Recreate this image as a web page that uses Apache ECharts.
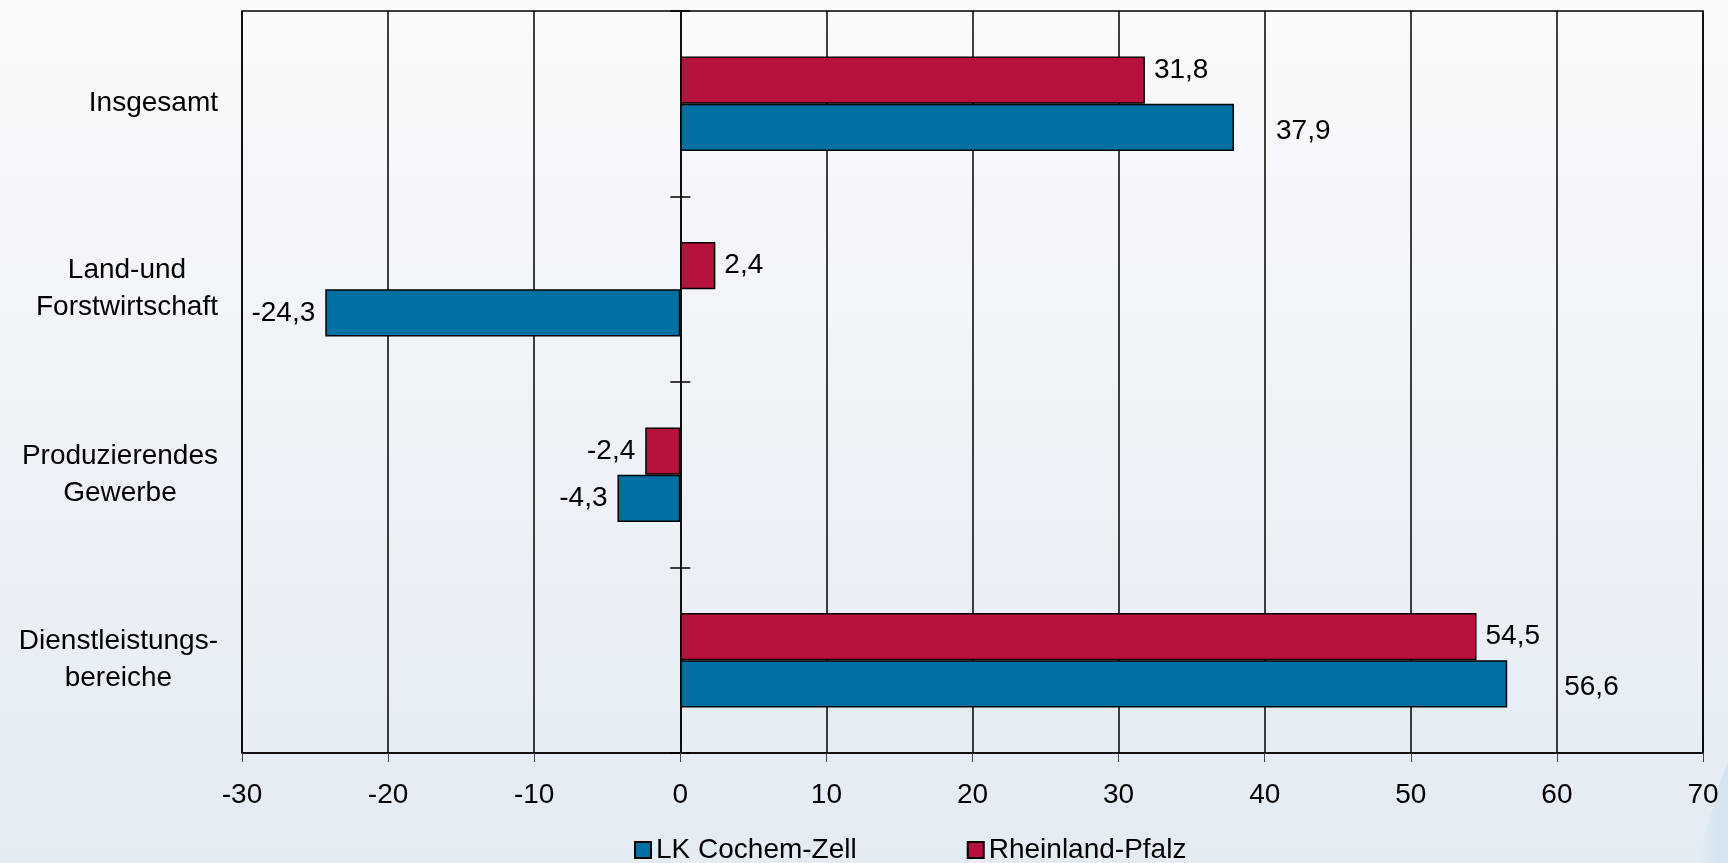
<!DOCTYPE html>
<html>
<head>
<meta charset="utf-8">
<script src="https://cdn.jsdelivr.net/npm/echarts@6/dist/echarts.min.js"></script>
<style>
html,body{margin:0;padding:0;width:100%;height:100%;}
#chart{width:1728px;height:863px;}
</style>
</head>
<body>
<div id="chart"></div>
<script>
// ---- data ----
var categories = ['Insgesamt', 'Land-und\nForstwirtschaft', 'Produzierendes\nGewerbe', 'Dienstleistungs-\nbereiche'];
var seriesNames = ['LK Cochem-Zell', 'Rheinland-Pfalz'];
var valuesCochem = [37.9, -24.3, -4.3, 56.6];
var valuesRLP = [31.8, 2.4, -2.4, 54.5];
var xTicks = [-30, -20, -10, 0, 10, 20, 30, 40, 50, 60, 70];

// ---- label styling (distance from bar end, vertical shift) ----
var cochemLabelGap = [42, 10, 10, 57];
var cochemLabelShift = [4, 0, 0, 3];
var rlpLabelGap = [9, 9, 10, 9];
var rlpLabelShift = [-10, 0, 0, 0];

var FONT = '"Liberation Sans", Arial, sans-serif';
var BLUE = '#0070a2';
var RED = '#b5123d';

function fmt(v) { return v.toFixed(1).replace('.', ','); }

function buildData(values, gaps, shifts) {
  return values.map(function (v, i) {
    return {
      value: v,
      label: {
        show: true,
        position: v >= 0 ? 'right' : 'left',
        distance: gaps[i],
        offset: [0, shifts[i]],
        formatter: fmt(v)
      }
    };
  });
}

var chart = echarts.init(document.getElementById('chart'), null, {renderer: 'canvas'});

var labelRich = { c: { align: 'center', fontSize: 28, lineHeight: 37, fontFamily: FONT, color: '#000' } };

var option = {
  animation: false,
  backgroundColor: {
    type: 'linear', x: 0, y: 0, x2: 0, y2: 1,
    colorStops: [{offset: 0, color: '#f9fafc'}, {offset: 1, color: '#e4ebf3'}]
  },
  graphic: [{
    type: 'circle',
    z: -10,
    silent: true,
    shape: {cx: 2382, cy: 1011, r: 700},
    style: {
      fill: {
        type: 'linear', x: 0, y: 0, x2: 1, y2: 0,
        colorStops: [{offset: 0, color: '#eef3f8'}, {offset: 0.03, color: '#d3e3ef'}, {offset: 1, color: '#b9d2e6'}]
      }
    }
  }],
  textStyle: {fontFamily: FONT},
  grid: {
    left: 242, right: 25, top: 11, bottom: 110,
    show: true, borderColor: '#000', borderWidth: 1.5, backgroundColor: 'transparent'
  },
  legend: {
    data: seriesNames,
    left: 629,
    top: 831,
    itemWidth: 16,
    itemHeight: 16,
    itemGap: 110,
    icon: 'rect',
    formatter: function (name) { return '{t|' + name + '}'; },
    textStyle: {
      fontSize: 28, color: '#000', fontFamily: FONT,
      rich: { t: { fontSize: 28, color: '#000', fontFamily: FONT, lineHeight: 30 } }
    }
  },
  xAxis: {
    type: 'value',
    min: xTicks[0],
    max: xTicks[xTicks.length - 1],
    interval: xTicks[1] - xTicks[0],
    axisLine: {show: true, onZero: false, lineStyle: {color: '#000', width: 1.5}},
    axisTick: {show: true, length: 9, lineStyle: {color: '#444', width: 1}},
    axisLabel: {fontSize: 28, color: '#000', margin: 28, fontFamily: FONT},
    splitLine: {show: true, lineStyle: {color: '#000', width: 1.5}}
  },
  yAxis: [{
    type: 'category',
    data: categories,
    inverse: true,
    axisLine: {show: false, onZero: false},
    axisTick: {show: false},
    axisLabel: {
      margin: 24,
      formatter: function (v) {
        return v.split('\n').map(function (s) { return '{c|' + s + '}'; }).join('\n');
      },
      rich: labelRich
    },
    splitLine: {show: false}
  }, {
    type: 'category',
    data: categories,
    inverse: true,
    position: 'left',
    axisLine: {show: true, onZero: true, onZeroAxisIndex: 0, lineStyle: {color: '#000', width: 1.5}},
    axisTick: {show: true, inside: false, length: 10, lineStyle: {color: '#000', width: 1.5}},
    axisLabel: {show: false},
    splitLine: {show: false}
  }, {
    type: 'category',
    data: categories,
    inverse: true,
    position: 'left',
    axisLine: {show: false, onZero: true, onZeroAxisIndex: 0},
    axisTick: {show: true, inside: true, length: 10, lineStyle: {color: '#000', width: 1.5}},
    axisLabel: {show: false},
    splitLine: {show: false}
  }],
  series: [{
    name: seriesNames[1],
    type: 'bar',
    yAxisIndex: 0,
    barGap: '0%',
    barCategoryGap: '49%',
    itemStyle: {color: RED, borderColor: '#000', borderWidth: 1.5},
    label: {fontSize: 28, color: '#000', fontFamily: FONT},
    data: buildData(valuesRLP, rlpLabelGap, rlpLabelShift),
    z: 3
  }, {
    name: seriesNames[0],
    type: 'bar',
    yAxisIndex: 0,
    barGap: '0%',
    barCategoryGap: '49%',
    itemStyle: {color: BLUE, borderColor: '#000', borderWidth: 1.5},
    label: {fontSize: 28, color: '#000', fontFamily: FONT},
    data: buildData(valuesCochem, cochemLabelGap, cochemLabelShift),
    z: 3
  }]
};
chart.setOption(option);
</script>
</body>
</html>
